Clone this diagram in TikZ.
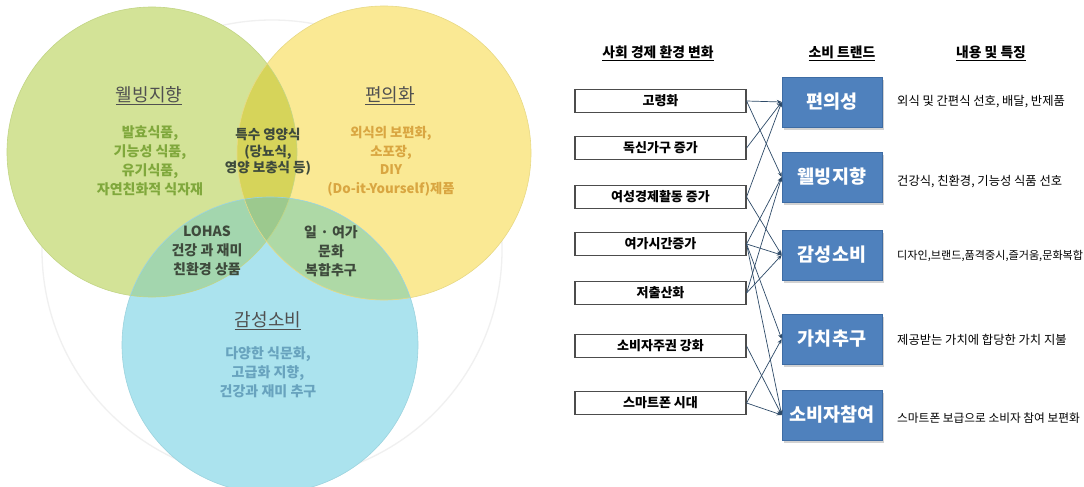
\documentclass[tikz,border=0pt]{standalone}
\usepackage{fontspec}
\setmainfont{Noto Sans CJK KR}
\usetikzlibrary{arrows.meta,shadows}
\definecolor{gfill}{HTML}{D3E397}
\definecolor{yfill}{HTML}{FAE994}
\definecolor{bfill}{HTML}{ABE3EE}
\definecolor{gyfill}{HTML}{D6D45A}
\definecolor{gbfill}{HTML}{A3D6AE}
\definecolor{ybfill}{HTML}{AED9A6}
\definecolor{allfill}{HTML}{9CC98E}
\definecolor{gedge}{HTML}{C2D585}
\definecolor{yedge}{HTML}{E8D985}
\definecolor{bedge}{HTML}{9BD3DE}
\definecolor{gtext}{HTML}{80A83C}
\definecolor{ytext}{HTML}{D9A641}
\definecolor{btext}{HTML}{68A3BE}
\definecolor{dtext}{HTML}{3E4A3C}
\definecolor{htext}{HTML}{505050}
\definecolor{tblue}{HTML}{4F81BD}
\definecolor{tborder}{HTML}{3E6CA4}
\definecolor{connc}{HTML}{2E4A68}
\begin{document}
\begin{tikzpicture}[x=1pt,y=-1pt,
  lbox/.style={draw=black!70, line width=1.1pt, fill=white, minimum width=171pt, minimum height=23pt, inner sep=0pt, font=\fontsize{13}{15}\selectfont\bfseries},
  tbox/.style={draw=tborder, line width=0.6pt, fill=tblue, minimum width=100pt, minimum height=50pt, inner sep=0pt, text=white, font=\fontsize{18.5}{20}\selectfont\bfseries, drop shadow={shadow xshift=1.5pt, shadow yshift=-2.5pt, opacity=0.35}},
  conn/.style={draw=connc, line width=0.7pt, -{Stealth[length=5pt,width=4pt]}},
  desc/.style={anchor=west, inner sep=0pt, font=\fontsize{12.3}{14}\selectfont},
  hdr/.style={inner sep=0pt, font=\fontsize{13.8}{15}\selectfont\bfseries},
  vhead/.style={inner sep=0pt, text=htext, font=\fontsize{18}{20}\selectfont},
  vbody/.style={inner sep=0pt, align=center, font=\fontsize{14}{19}\selectfont\bfseries},
]
\useasboundingbox (0,0) rectangle (1084,487);
\fill[white] (0,0) rectangle (1084,487);

% ---------- Venn diagram ----------
\coordinate (G) at (152,152);
\coordinate (Y) at (384,153);
\coordinate (B) at (270,345);
\draw[black!6, line width=1.3pt] (272,250) circle[radius=230pt];

\fill[gfill] (G) circle[radius=145pt];
\fill[yfill] (Y) circle[radius=147pt];
\fill[bfill] (B) circle[radius=148pt];
\begin{scope}
  \clip (G) circle[radius=145pt];
  \fill[gyfill] (Y) circle[radius=147pt];
  \fill[gbfill] (B) circle[radius=148pt];
\end{scope}
\begin{scope}
  \clip (Y) circle[radius=147pt];
  \fill[ybfill] (B) circle[radius=148pt];
\end{scope}
\begin{scope}
  \clip (G) circle[radius=145pt];
  \clip (Y) circle[radius=147pt];
  \fill[allfill] (B) circle[radius=148pt];
\end{scope}
\draw[gedge, line width=0.6pt] (G) circle[radius=145pt];
\draw[yedge, line width=0.6pt] (Y) circle[radius=147pt];
\draw[bedge, line width=0.6pt] (B) circle[radius=148pt];

\node[vhead] (hg) at (149,96) {\underline{웰빙지향}};
\node[vhead] (hy) at (390,96) {\underline{편의화}};
\node[vhead] (hb) at (268,321) {\underline{감성소비}};

\node[vbody, text=gtext] (tg) at (150,161) {발효식품,\\기능성 식품,\\유기식품,\\자연친화적 식자재};
\node[vbody, text=ytext, font=\fontsize{13.3}{18.5}\selectfont\bfseries] (ty) at (391,161) {외식의 보편화,\\소포장,\\DIY\\(Do-it-Yourself)제품};
\node[vbody, text=dtext, font=\fontsize{13.5}{16.5}\selectfont\bfseries] (tgy) at (268,152) {특수 영양식\\(당뇨식,\\영양 보충식 등)};
\node[vbody, text=dtext] (tgb) at (207,251) {LOHAS\\건강 과 재미\\친환경 상품};
\node[vbody, text=dtext] (tyb) at (331,251) {일 · 여가\\문화\\복합추구};
\node[vbody, text=btext] (tb) at (268,372) {다양한 식문화,\\고급화 지향,\\건강과 재미 추구};

% ---------- Right chart ----------
\node[hdr] (h1) at (658,53) {\underline{사회 경제 환경 변화}};
\node[hdr] (h2) at (842,53) {\underline{소비 트랜드}};
\node[hdr] (h3) at (991,53) {\underline{내용 및 특징}};

\node[lbox] (l1) at (660.5,101) {고령화};
\node[lbox] (l2) at (660.5,148) {독신가구 증가};
\node[lbox] (l3) at (660.5,197) {여성경제활동 증가};
\node[lbox] (l4) at (660.5,244) {여가시간증가};
\node[lbox] (l5) at (660.5,293) {저출산화};
\node[lbox] (l6) at (660.5,346) {소비자주권 강화};
\node[lbox] (l7) at (660.5,403) {스마트폰 시대};

\node[tbox] (t1) at (832,102) {편의성};
\node[tbox] (t2) at (832,177) {웰빙지향};
\node[tbox] (t3) at (832,255) {감성소비};
\node[tbox] (t4) at (832,339) {가치추구};
\node[tbox] (t5) at (832,415) {소비자참여};

\node[desc] (d1) at (897,102) {외식 및 간편식 선호, 배달, 반제품};
\node[desc] (d2) at (897,182) {건강식, 친환경, 기능성 식품 선호};
\node[desc, font=\fontsize{11.1}{13}\selectfont] (d3) at (897,256) {디자인,브랜드,품격중시,즐거움,문화복합};
\node[desc] (d4) at (897,340) {제공받는 가치에 합당한 가치 지불};
\node[desc, font=\fontsize{11.7}{13}\selectfont] (d5) at (897,418) {스마트폰 보급으로 소비자 참여 보편화};

\draw[conn] (l1.east) -- (t1.west);
\draw[conn] (l1.east) -- (t2.west);
\draw[conn] (l2.east) -- (t1.west);
\draw[conn] (l3.east) -- (t1.west);
\draw[conn] (l3.east) -- (t3.west);
\draw[conn] (l4.east) -- (t2.west);
\draw[conn] (l4.east) -- (t3.west);
\draw[conn] (l4.east) -- (t4.west);
\draw[conn] (l4.east) -- (t5.west);
\draw[conn] (l5.east) -- (t2.west);
\draw[conn] (l5.east) -- (t3.west);
\draw[conn] (l6.east) -- (t5.west);
\draw[conn] (l7.east) -- (t4.west);
\draw[conn] (l7.east) -- (t5.west);
\end{tikzpicture}
\end{document}
